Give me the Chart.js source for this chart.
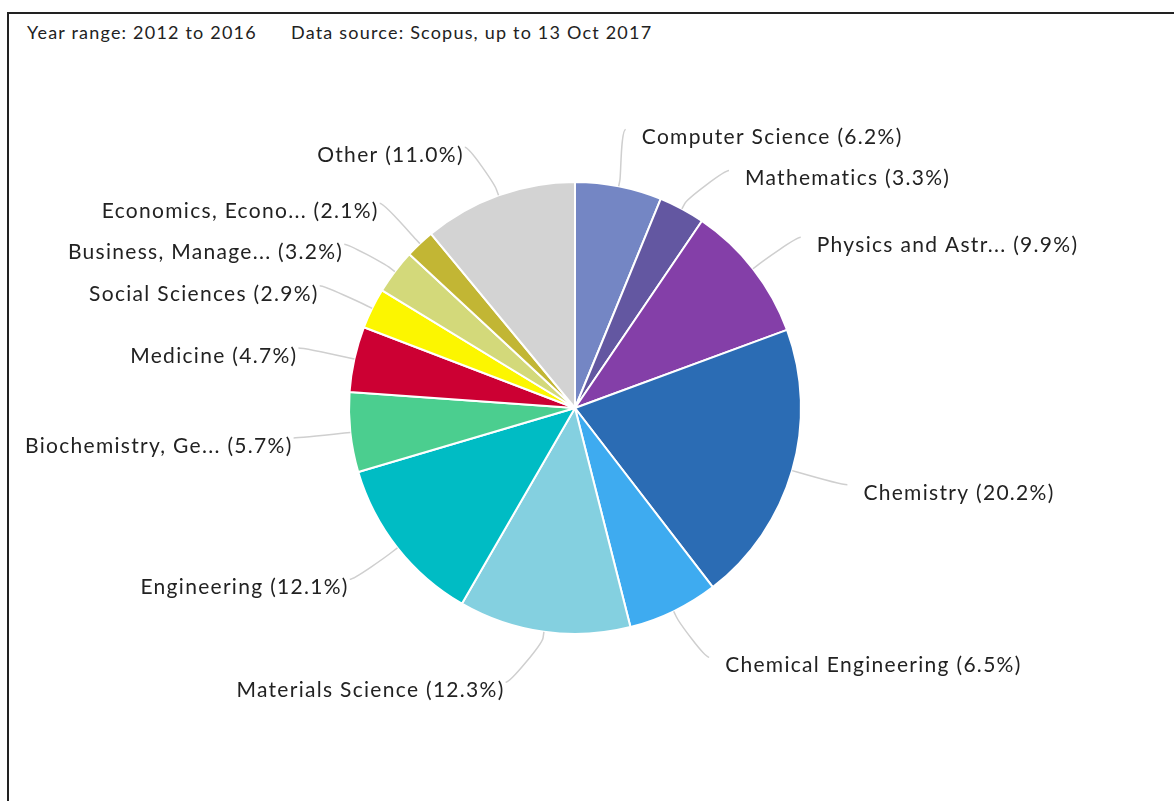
<!DOCTYPE html>
<html>
<head>
<meta charset="utf-8">
<title>Subject area breakdown</title>
<script src="https://cdn.jsdelivr.net/npm/chart.js"></script>
<style>
  html, body { margin: 0; padding: 0; background: #fff; }
  body { width: 1174px; height: 801px; overflow: hidden; position: relative; font-family: Lato, "Open Sans", sans-serif; }
  #frame { position: absolute; left: 7px; top: 12px; width: 1300px; height: 900px; border-left: 2px solid #222; border-top: 2px solid #222; }
  .info { position: absolute; top: 21px; font-size: 18px; color: #222; white-space: pre; letter-spacing: 1.2px; font-variant-ligatures: none; }
  #wrap { position: absolute; left: 0; top: 0; width: 1174px; height: 801px; }
</style>
</head>
<body>
<div id="frame"></div>
<div class="info" style="left:27px">Year range: 2012 to 2016</div>
<div class="info" style="left:291px">Data source: Scopus, up to 13 Oct 2017</div>
<div id="wrap"><canvas id="pie"></canvas></div>
<script>
var subjects = ["Computer Science", "Mathematics", "Physics and Astr...", "Chemistry",
    "Chemical Engineering", "Materials Science", "Engineering", "Biochemistry, Ge...",
    "Medicine", "Social Sciences", "Business, Manage...", "Economics, Econo...", "Other"];
var shares = [6.2, 3.3, 9.9, 20.2, 6.5, 12.3, 12.1, 5.7, 4.7, 2.9, 3.2, 2.1, 11.0];
var colours = ["#7486c4", "#6357a1", "#843fa8", "#2b6cb4", "#3eabf0", "#84d0e0", "#00bcc4",
    "#4bce8f", "#cc0033", "#fcf600", "#d3d97a", "#c2b634", "#d3d3d3"];

// outside labels with soft connectors, roughly the way the original tool lays them out
var outsideLabels = {
    id: "outsideLabels",
    afterDatasetsDraw: function(chart) {
        var ctx = chart.ctx;
        var arcs = chart.getDatasetMeta(0).data;
        var items = [];
        arcs.forEach(function(arc, i) {
            var a = (arc.startAngle + arc.endAngle) / 2;
            var cx = arc.x, cy = arc.y, r = arc.outerRadius;
            items.push({
                i: i, a: a, cx: cx, cy: cy, r: r,
                right: Math.cos(a) >= 0,
                y: cy + 277 * Math.sin(a)
            });
        });
        [true, false].forEach(function(side) {
            var list = items.filter(function(it) { return it.right === side; });
            list.sort(function(p, q) { return p.y - q.y; });
            for (var k = 0; k < 60; k++) {
                for (var j = 1; j < list.length; j++) {
                    var gap = list[j].y - list[j - 1].y;
                    if (gap < 41) {
                        var d = (41 - gap) / 2;
                        list[j - 1].y -= d;
                        list[j].y += d;
                    }
                }
            }
        });
        ctx.save();
        ctx.font = "21px Lato, 'Open Sans', sans-serif";
        ctx.letterSpacing = "1.3px";
        ctx.textBaseline = "middle";
        items.forEach(function(it) {
            var rl = 283;
            var dy = Math.max(-rl, Math.min(rl, it.y - it.cy));
            var dx = Math.sqrt(rl * rl - dy * dy);
            var lx = it.cx + (it.right ? dx : -dx);
            var ly = it.y;
            var ca = Math.cos(it.a), sa = Math.sin(it.a);
            var tx = it.cx + ca * it.r, ty = it.cy + sa * it.r;
            var bx = it.cx + ca * (it.r + 6), by = it.cy + sa * (it.r + 6);
            ctx.beginPath();
            ctx.moveTo(lx, ly);
            ctx.bezierCurveTo(lx + (it.right ? -5 : 5), ly, 2 * bx - tx, 2 * by - ty, bx, by);
            ctx.lineTo(tx, ty);
            ctx.strokeStyle = "#cfcfcf";
            ctx.lineWidth = 1.5;
            ctx.stroke();
            var text = subjects[it.i] + " (" + shares[it.i].toFixed(1) + "%)";
            ctx.fillStyle = "#222";
            if (it.right) {
                ctx.textAlign = "left";
                ctx.fillText(text, lx + 16, ly + 8);
            } else {
                ctx.textAlign = "right";
                ctx.fillText(text, lx - 1, ly + 8);
            }
        });
        ctx.restore();
    }
};

new Chart(document.getElementById("pie"), {
    type: "pie",
    data: {
        labels: subjects,
        datasets: [{
            data: shares,
            backgroundColor: colours,
            borderColor: "#ffffff",
            borderWidth: 2
        }]
    },
    options: {
        responsive: true,
        maintainAspectRatio: false,
        animation: false,
        radius: 226,
        layout: { padding: { left: 0, right: 24, top: 15, bottom: 0 } },
        plugins: {
            legend: { display: false },
            tooltip: { enabled: false }
        }
    },
    plugins: [outsideLabels]
});
</script>
</body>
</html>
